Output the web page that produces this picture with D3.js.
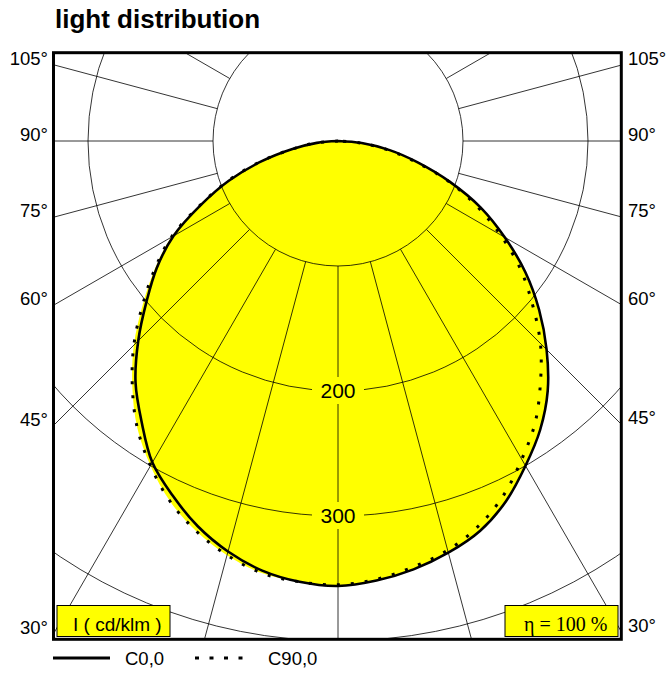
<!DOCTYPE html>
<html><head><meta charset="utf-8">
<script src="https://cdn.jsdelivr.net/npm/d3@7/dist/d3.min.js"></script>
<style>
body{margin:0;background:#fff}
svg{display:block}
text{font-family:"Liberation Sans",Arial,sans-serif;fill:#000}
</style>
</head><body>
<svg id="chart" width="672" height="673"></svg>
<script>
// ---------------- data ----------------
const title = "light distribution";
const gammaAngles = [0,5,10,15,20,25,30,35,40,45,50,55,60,65,70,75,80,85,90];
// C0 plane (right half, solid)
const c0   = [356,353,348,341,332,318,300,282,261,236,210,183,154,126,95,66,42,19,0];
// C180 plane (left half, solid)
const c180 = [356,354,349,340,328,313,297,274,252,226,200,177,152,121,93,64,37,17,0];
// C90 plane (right half, dotted)
const c90  = [355,352,346,339,328,313,294,275,252,229,203,178,150,122,94,64,40,18,0];
// C270 plane (left half, dotted)
const c270 = [355,354,351,343,332,318,300,280,256,231,204,179,154,122,94,65,37,18,0];
const ringValues = [100,200,300,400,500];
const ringLabelValues = [200,300];
const gridAngles = [-120,-105,-90,-75,-60,-45,-30,-15,0,15,30,45,60,75,90,105,120];
const sideLabelAngles = [105,90,75,60,45,30];
const legendLabels = ["C0,0","C90,0"];
const unitLabel = "I ( cd/klm )";
const etaLabel = "\u03B7 = 100 %";

// ---------------- layout ----------------
const svg = d3.select("#chart");
const box = {x0:53.5, y0:52.7, x1:621.3, y1:639.3};
const cx = 338, cy = 141;
const r = d3.scaleLinear().domain([0,100]).range([0,125]);
const rad = d => d*Math.PI/180;

svg.append("rect").attr("width",672).attr("height",673).attr("fill","#fff");

svg.append("text").attr("x",55).attr("y",28)
  .style("font-size","26px").style("font-weight","bold").text(title);

svg.append("defs").append("clipPath").attr("id","boxclip")
  .append("rect").attr("x",box.x0).attr("y",box.y0)
  .attr("width",box.x1-box.x0).attr("height",box.y1-box.y0);

const plot = svg.append("g").attr("clip-path","url(#boxclip)");
const g = plot.append("g").attr("transform",`translate(${cx},${cy})`);

function curvePoints(left,right){
  const p=[];
  for(let i=gammaAngles.length-1;i>=0;i--) p.push([Math.PI+rad(gammaAngles[i]), r(left[i])]);
  for(let i=1;i<gammaAngles.length;i++) p.push([Math.PI-rad(gammaAngles[i]), r(right[i])]);
  return p;
}
const radial = d3.lineRadial().curve(d3.curveCatmullRom.alpha(0.5))
  .angle(d=>d[0]).radius(d=>d[1]);

const solidPts = curvePoints(c180,c0);
const dotPts = curvePoints(c270,c90);

// yellow fill (union of both planes)
g.append("path").attr("d",radial(dotPts)+"Z").attr("fill","#ffff00");
g.append("path").attr("d",radial(solidPts)+"Z").attr("fill","#ffff00");

// grid circles
g.selectAll("circle.ring").data(ringValues).join("circle")
  .attr("class","ring").attr("r",d=>r(d))
  .attr("fill","none").attr("stroke","#000").attr("stroke-width",0.8);

// radial lines (start at inner ring)
g.selectAll("line.spoke").data(gridAngles).join("line")
  .attr("class","spoke")
  .attr("x1",d=>r(ringValues[0])*Math.sin(rad(d)))
  .attr("y1",d=>r(ringValues[0])*Math.cos(rad(d)))
  .attr("x2",d=>r(1000)*Math.sin(rad(d)))
  .attr("y2",d=>r(1000)*Math.cos(rad(d)))
  .attr("stroke","#000").attr("stroke-width",0.8);

// ring labels with knockout
const rl = g.selectAll("g.rl").data(ringLabelValues).join("g").attr("class","rl")
  .attr("transform",d=>`translate(0,${r(d)})`);
rl.append("rect").attr("x",-26).attr("y",-14).attr("width",52).attr("height",27).attr("fill","#ffff00");
rl.append("text").attr("text-anchor","middle").attr("y",7).style("font-size","21px").text(d=>d);

// curves
g.append("path").attr("d",radial(solidPts)).attr("fill","none")
  .attr("stroke","#000").attr("stroke-width",2.6).attr("stroke-linejoin","round");
g.append("path").attr("d",radial(dotPts)).attr("fill","none")
  .attr("stroke","#000").attr("stroke-width",3).attr("stroke-dasharray","3,11");

// frame
svg.append("rect").attr("x",box.x0).attr("y",box.y0)
  .attr("width",box.x1-box.x0).attr("height",box.y1-box.y0)
  .attr("fill","none").attr("stroke","#000").attr("stroke-width",3);

// side angle labels
sideLabelAngles.forEach(a=>{
  const s=Math.sin(rad(a)), c=Math.cos(rad(a));
  const yl = cy + (cx-box.x0)/s*c;
  const yr = cy + (box.x1-cx)/s*c;
  svg.append("text").attr("x",48).attr("y",yl).attr("text-anchor","end")
    .style("font-size","18.5px").text(a+"\u00B0");
  svg.append("text").attr("x",628).attr("y",yr)
    .style("font-size","18.5px").text(a+"\u00B0");
});

// unit box and efficiency box
svg.append("rect").attr("x",57).attr("y",605.5).attr("width",113).attr("height",31)
  .attr("fill","#ffff00").attr("stroke","#000").attr("stroke-width",1);
svg.append("text").attr("x",73).attr("y",631).style("font-size","19px").text(unitLabel);
svg.append("rect").attr("x",505).attr("y",605.5).attr("width",113).attr("height",31)
  .attr("fill","#ffff00").attr("stroke","#000").attr("stroke-width",1);
svg.append("text").attr("x",524).attr("y",631)
  .style("font-family","'Liberation Serif','Times New Roman',serif").style("font-size","20px").text(etaLabel);

// legend
svg.append("line").attr("x1",53).attr("x2",110).attr("y1",658).attr("y2",658)
  .attr("stroke","#000").attr("stroke-width",3);
svg.append("text").attr("x",125).attr("y",665).style("font-size","18.5px").text(legendLabels[0]);
svg.append("line").attr("x1",195).attr("x2",245).attr("y1",658).attr("y2",658)
  .attr("stroke","#000").attr("stroke-width",3).attr("stroke-dasharray","4,10.5");
svg.append("text").attr("x",268).attr("y",665).style("font-size","18.5px").text(legendLabels[1]);
</script>
</body></html>
